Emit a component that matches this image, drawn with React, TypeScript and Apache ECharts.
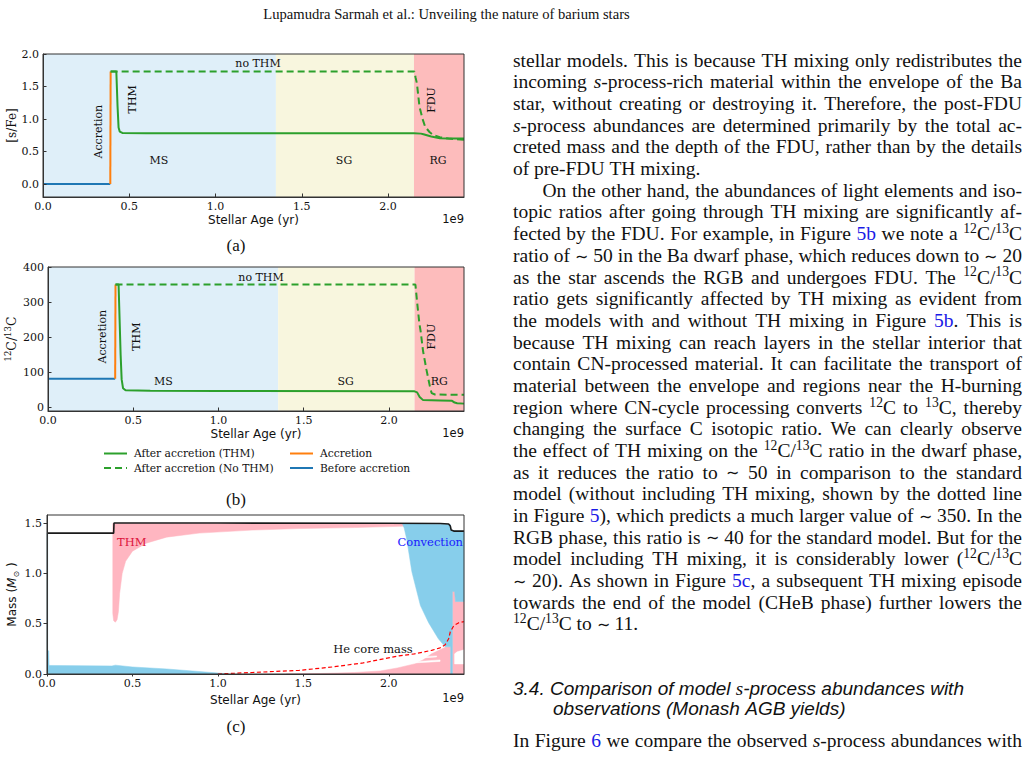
import React, { useEffect, useRef } from "react";
import * as echarts from "echarts";

const W = 1032;
const H = 761;

// ---------------- axes ----------------
const AGE_MAX = 2.44; // 1e9 yr
const ageTicks = [0, 0.5, 1.0, 1.5, 2.0];
const sfeTicks = [0, 0.5, 1.0, 1.5, 2.0];
const ratioTicks = [0, 100, 200, 300, 400];
const massTicks = [0, 0.5, 1.0, 1.5];

// ---------------- evolutionary phases ----------------
const phaseLabels = ["MS", "SG", "RG"];
const phaseFrom = [0, 1.35, 2.15];
const phaseTo = [1.35, 2.15, 2.44];

// ---------------- panel (a): [s/Fe] ----------------
const sfeBefore = [[0, 0], [0.39, 0]];
const sfeAccretion = [[0.39, 0], [0.392, 1.73]];
const sfeNoTHM = [[0.392, 1.73], [1.0, 1.73], [2.152, 1.73], [2.16, 1.63], [2.167, 1.55], [2.175, 1.36], [2.182, 1.19], [2.2, 1.0], [2.215, 0.88], [2.24, 0.8], [2.263, 0.75], [2.3, 0.72], [2.35, 0.7], [2.44, 0.68]];
const sfeTHM = [[0.392, 1.73], [0.425, 1.73], [0.432, 1.2], [0.438, 0.87], [0.445, 0.805], [0.46, 0.785], [0.6, 0.78], [1.0, 0.78], [1.5, 0.78], [2.15, 0.78], [2.19, 0.775], [2.205, 0.765], [2.25, 0.73], [2.3, 0.705], [2.35, 0.7], [2.44, 0.7]];

// ---------------- panel (b): 12C/13C ----------------
const ratioBefore = [[0, 82], [0.394, 82]];
const ratioAccretion = [[0.394, 82], [0.396, 350]];
const ratioNoTHM = [[0.396, 350], [1.0, 350], [2.155, 350], [2.165, 300], [2.178, 240], [2.186, 216], [2.2, 160], [2.22, 107], [2.24, 60], [2.25, 41], [2.27, 37], [2.44, 36]];
const ratioTHM = [[0.396, 350], [0.414, 350], [0.42, 250], [0.426, 150], [0.432, 80], [0.44, 55], [0.455, 49], [0.6, 48], [1.0, 47], [2.15, 46], [2.165, 43], [2.18, 30], [2.2, 21], [2.3, 20], [2.37, 19], [2.385, 14], [2.4, 12], [2.44, 11]];

// ---------------- panel (c): Kippenhahn diagram ----------------
const totalMass = [[0, 1.4], [0.39, 1.4], [0.392, 1.5], [1.0, 1.5], [2.0, 1.498], [2.3, 1.495], [2.35, 1.49], [2.36, 1.47], [2.365, 1.43], [2.38, 1.42], [2.44, 1.42]];
const heCoreMass = [[1.0, 0], [1.2, 0.015], [1.475, 0.036], [1.67, 0.07], [1.85, 0.11], [2.06, 0.18], [2.15, 0.2], [2.25, 0.235], [2.3, 0.26], [2.33, 0.29], [2.35, 0.35], [2.36, 0.42], [2.38, 0.48], [2.41, 0.51], [2.44, 0.52]];
const thmZones = [
  [[0.385, 1.495], [2.12, 1.49], [2.12, 1.47], [1.8, 1.455], [1.475, 1.445], [1.2, 1.43], [0.89, 1.4], [0.7, 1.36], [0.58, 1.3], [0.5, 1.22], [0.46, 1.12], [0.44, 1.0], [0.425, 0.8], [0.418, 0.62], [0.41, 0.54], [0.4, 0.515], [0.39, 0.53], [0.385, 0.6]],
  [[1.4, 0], [1.6, 0.005], [1.8, 0.015], [1.95, 0.03], [2.05, 0.06], [2.15, 0.1], [2.2, 0.14], [2.25, 0.2], [2.3, 0.24], [2.33, 0.265], [2.362, 0.27], [2.362, 0]],
  [[2.372, 0], [2.372, 0.82], [2.385, 0.84], [2.39, 0.72], [2.44, 0.72], [2.44, 0]],
];
const convectionZones = [
  [[0, 0], [0, 1.4], [0.004, 1.4], [0.004, 0.23], [0.01, 0.23], [0.012, 0.085], [0.38, 0.08], [0.4, 0.088], [0.5, 0.07], [0.7, 0.05], [0.85, 0.03], [1.0, 0.01], [1.05, 0]],
  [[2.08, 1.492], [2.36, 1.485], [2.365, 1.425], [2.44, 1.418], [2.44, 0.72], [2.39, 0.72], [2.385, 0.82], [2.372, 0.82], [2.372, 0], [2.362, 0], [2.362, 0.27], [2.33, 0.27], [2.29, 0.35], [2.233, 0.51], [2.185, 0.68], [2.135, 1.015], [2.105, 1.34], [2.09, 1.45]],
];
const mixingGaps = [
  [[2.385, 0.1], [2.44, 0.1], [2.44, 0.24], [2.4, 0.22], [2.385, 0.2]],
  [[2.15, 0.11], [2.3, 0.125], [2.3, 0.14], [2.15, 0.122]],
  [[2.2, 0.16], [2.28, 0.17], [2.28, 0.18], [2.2, 0.17]],
];

// ---------------- page text ----------------
const headerText = "Lupamudra Sarmah et al.: Unveiling the nature of barium stars";
const paragraph1 = [
  "stellar models. This is because TH mixing only redistributes the",
  "incoming _s_-process-rich material within the envelope of the Ba",
  "star, without creating or destroying it. Therefore, the post-FDU",
  "_s_-process abundances are determined primarily by the total ac-",
  "creted mass and the depth of the FDU, rather than by the details",
  "of pre-FDU TH mixing.",
];
const paragraph2 = [
  "On the other hand, the abundances of light elements and iso-",
  "topic ratios after going through TH mixing are significantly af-",
  "fected by the FDU. For example, in Figure [5b] we note a ^12^C/^13^C",
  "ratio of ∼ 50 in the Ba dwarf phase, which reduces down to ∼ 20",
  "as the star ascends the RGB and undergoes FDU. The ^12^C/^13^C",
  "ratio gets significantly affected by TH mixing as evident from",
  "the models with and without TH mixing in Figure [5b]. This is",
  "because TH mixing can reach layers in the stellar interior that",
  "contain CN-processed material. It can facilitate the transport of",
  "material between the envelope and regions near the H-burning",
  "region where CN-cycle processing converts ^12^C to ^13^C, thereby",
  "changing the surface C isotopic ratio. We can clearly observe",
  "the effect of TH mixing on the ^12^C/^13^C ratio in the dwarf phase,",
  "as it reduces the ratio to ∼ 50 in comparison to the standard",
  "model (without including TH mixing, shown by the dotted line",
  "in Figure [5]), which predicts a much larger value of ∼ 350. In the",
  "RGB phase, this ratio is ∼ 40 for the standard model. But for the",
  "model including TH mixing, it is considerably lower (^12^C/^13^C",
  "∼ 20). As shown in Figure [5c], a subsequent TH mixing episode",
  "towards the end of the model (CHeB phase) further lowers the",
  "^12^C/^13^C to  ∼ 11.",
];
const headingLines = [
  "3.4. Comparison of model _s_-process abundances with",
  "observations (Monash AGB yields)",
];
const paragraph3 = ["In Figure [6] we compare the observed _s_-process abundances with"];

// ---------------- styling ----------------
const GREEN = "#2ca02c";
const ORANGE = "#ff7f0e";
const BLUE = "#1f77b4";
const phaseColors = ["#dfeff9", "#f8f6de", "#fdbcbc"];
const TEXT = "#111";
const LINK = "#1a1ae6";
const SERIF = "Liberation Serif";
const SANS = "Liberation Sans";
const PLOT_SERIF = "DejaVu Serif";
const PLOT_SANS = "DejaVu Sans";

// ---------------- text layout helpers ----------------
let ctx: CanvasRenderingContext2D | null = null;
function measure(text: string, size: number, family: string, italic: boolean) {
  if (!ctx) ctx = document.createElement("canvas").getContext("2d");
  ctx!.font = `${italic ? "italic " : ""}${size}px "${family}"`;
  return ctx!.measureText(text).width;
}

type Seg = { t: string; it: boolean; sup: boolean; link: boolean };
function parseWord(w: string): Seg[] {
  const segs: Seg[] = [];
  let it = false, sup = false, link = false, buf = "";
  const flush = () => {
    if (buf) segs.push({ t: buf, it, sup, link });
    buf = "";
  };
  for (const ch of w) {
    if (ch === "_") { flush(); it = !it; }
    else if (ch === "^") { flush(); sup = !sup; }
    else if (ch === "[") { flush(); link = true; }
    else if (ch === "]") { flush(); link = false; }
    else buf += ch;
  }
  flush();
  return segs;
}

function layoutLine(
  text: string, x0: number, x1: number, baseline: number, justify: boolean,
  fs: number, baseFamily: string, baseItalic: boolean, altFamily: string
) {
  const words = text.split(" ").filter((w) => w.length > 0);
  const parsed = words.map(parseWord);
  const info = (s: Seg) => ({
    size: s.sup ? fs * 0.7 : s.t === "∼" ? fs * 0.8 : fs,
    family: s.it ? altFamily : baseFamily,
    italic: s.it ? true : baseItalic,
  });
  const widths = parsed.map((segs) =>
    segs.reduce((a, s) => {
      const i = info(s);
      return a + measure(s.t, i.size, i.family, i.italic);
    }, 0)
  );
  const total = widths.reduce((a, b) => a + b, 0);
  const space = measure(" ", fs, baseFamily, baseItalic);
  const gap = justify && words.length > 1 ? (x1 - x0 - total) / (words.length - 1) : space;
  const els: any[] = [];
  let x = x0;
  parsed.forEach((segs, wi) => {
    let sx = x;
    segs.forEach((s) => {
      const i = info(s);
      const k = i.family === SANS ? 0.3465 : 0.3375;
      let y = s.sup ? baseline - 0.36 * fs - k * i.size : baseline - k * i.size;
      if (s.t === "∼") y = baseline - 0.3 * fs;
      els.push({
        type: "text", x: sx, y, silent: true, z: 50,
        style: {
          text: s.t, fontSize: i.size, fontFamily: i.family,
          fontStyle: i.italic ? "italic" : "normal",
          fill: s.link ? LINK : TEXT, align: "left", verticalAlign: "middle",
        },
      });
      sx += measure(s.t, i.size, i.family, i.italic);
    });
    x += widths[wi] + gap;
  });
  return els;
}

function plotText(text: string, x: number, y: number, opts: any = {}) {
  return {
    type: "text", x, y, silent: true, z: 50, rotation: opts.rotation || 0,
    style: {
      text, fontSize: opts.fontSize || 11, fontFamily: opts.fontFamily || PLOT_SERIF,
      fill: opts.fill || TEXT, align: opts.align || "center", verticalAlign: "middle",
    },
  };
}

// ---------------- chart option ----------------
function xAxis(gi: number, inside: boolean, margin: number, nameGap: number, tickLen: number) {
  return {
    type: "value", gridIndex: gi, min: 0, max: AGE_MAX, z: 10,
    name: "Stellar Age (yr)", nameLocation: "middle", nameGap,
    nameTextStyle: { fontFamily: PLOT_SANS, fontSize: 12, color: TEXT, verticalAlign: "middle" },
    axisLine: { show: true, onZero: false, lineStyle: { color: "#333", width: 1 } },
    axisTick: { show: true, inside, length: tickLen, customValues: ageTicks, lineStyle: { color: "#333" } },
    axisLabel: { customValues: ageTicks, formatter: (v: number) => v.toFixed(1), margin, fontFamily: PLOT_SERIF, fontSize: 11, color: TEXT },
    splitLine: { show: false },
  };
}

function yAxis(gi: number, min: number, max: number, ticks: number[], digits: number, inside: boolean, margin: number, name: string, nameGap: number, nameStyle: any) {
  return {
    type: "value", gridIndex: gi, min, max, z: 10,
    name, nameLocation: "middle", nameGap,
    nameTextStyle: { color: TEXT, verticalAlign: "middle", ...nameStyle },
    axisLine: { show: true, onZero: false, lineStyle: { color: "#333", width: 1 } },
    axisTick: { show: true, inside, length: 3.5, customValues: ticks, lineStyle: { color: "#333" } },
    axisLabel: { customValues: ticks, formatter: (v: number) => v.toFixed(digits), margin, fontFamily: PLOT_SERIF, fontSize: 11, color: TEXT },
    splitLine: { show: false },
  };
}

function lineSeries(name: string, data: number[][], gi: number, color: string, dashed = false, width = 2) {
  return {
    type: "line", name, data, xAxisIndex: gi, yAxisIndex: gi,
    showSymbol: false, symbol: "none", silent: true, z: 5,
    lineStyle: { color, width, type: dashed ? [7, 4] : "solid" },
    itemStyle: { color },
  };
}

function phaseSeries(gi: number) {
  return {
    type: "line", name: "phases", data: [], xAxisIndex: gi, yAxisIndex: gi, silent: true, z: 1,
    markArea: {
      silent: true,
      label: { show: false },
      data: phaseLabels.map((_, i) => [
        { xAxis: phaseFrom[i], itemStyle: { color: phaseColors[i], opacity: 1 } },
        { xAxis: phaseTo[i] },
      ]),
    },
  };
}

function polySeries(name: string, polys: number[][][], color: string, z: number) {
  return {
    type: "custom", name, xAxisIndex: 2, yAxisIndex: 2, silent: true, z,
    data: polys.map((p) => p[0]),
    renderItem: (params: any, api: any) => ({
      type: "polygon",
      shape: { points: polys[params.dataIndex].map((pt) => api.coord(pt)) },
      style: { fill: color, stroke: color, lineWidth: 0.5 },
    }),
  };
}

function buildOption() {
  const bodyFs = 19.5;
  const lead = 21.68;
  const x0 = 513, x1 = 1022;
  const graphics: any[] = [];

  // header
  graphics.push({
    type: "text", x: 446.5, y: 13.8, silent: true,
    style: { text: headerText, fontSize: 14.6, fontFamily: SERIF, fill: TEXT, align: "center", verticalAlign: "middle" },
  });

  // body paragraphs
  const allBody = [
    ...paragraph1.map((t, i) => ({ t, indent: false, last: i === paragraph1.length - 1 })),
    ...paragraph2.map((t, i) => ({ t, indent: i === 0, last: i === paragraph2.length - 1 })),
  ];
  allBody.forEach((l, i) => {
    graphics.push(...layoutLine(l.t, l.indent ? x0 + 29.5 : x0, x1, 66.8 + i * lead, !l.last, bodyFs, SERIF, false, SERIF));
  });
  // section heading
  graphics.push(...layoutLine(headingLines[0], x0, x1, 695, false, 19.0, SANS, true, SERIF));
  graphics.push(...layoutLine(headingLines[1], 553, x1, 715.5, false, 19.0, SANS, true, SERIF));
  graphics.push(...layoutLine(paragraph3[0], x0, x1, 747.5, true, bodyFs, SERIF, false, SERIF));

  // captions
  graphics.push(plotText("(a)", 236, 245.5, { fontSize: 17, fontFamily: SERIF }));
  graphics.push(plotText("(b)", 236, 499.5, { fontSize: 17, fontFamily: SERIF }));
  graphics.push(plotText("(c)", 236, 726.5, { fontSize: 17, fontFamily: SERIF }));

  // panel (a) annotations
  const R = Math.PI / 2;
  graphics.push(plotText("no THM", 258, 63));
  graphics.push(plotText("Accretion", 98, 131.7, { rotation: R }));
  graphics.push(plotText("THM", 132.7, 99.3, { rotation: R }));
  graphics.push(plotText("FDU", 431, 100, { rotation: R }));
  graphics.push(plotText(phaseLabels[0], 159, 160));
  graphics.push(plotText(phaseLabels[1], 344, 160));
  graphics.push(plotText(phaseLabels[2], 438, 160));
  graphics.push(plotText("1e9", 464, 219, { align: "right", fontFamily: PLOT_SANS, fontSize: 11.5 }));

  // panel (b) annotations
  graphics.push(plotText("no THM", 261, 277));
  graphics.push(plotText("Accretion", 102.7, 336.7, { rotation: R }));
  graphics.push(plotText("THM", 136.7, 336.7, { rotation: R }));
  graphics.push(plotText("FDU", 431.7, 336.7, { rotation: R }));
  graphics.push(plotText(phaseLabels[0], 163.3, 381.7));
  graphics.push(plotText(phaseLabels[1], 345.7, 381.7));
  graphics.push(plotText(phaseLabels[2], 439.3, 381.7));
  graphics.push(plotText("1e9", 464, 433, { align: "right", fontFamily: PLOT_SANS, fontSize: 11.5 }));

  // panel (c) annotations
  graphics.push(plotText("THM", 131.7, 542, { fill: "#dc143c", fontSize: 11.5 }));
  graphics.push(plotText("Convection", 463, 542, { fill: "#1a1aff", fontSize: 11.5, align: "right" }));
  graphics.push(plotText("He core mass", 373, 649, { fontSize: 11.5 }));
  graphics.push(plotText("1e9", 464, 698, { align: "right", fontFamily: PLOT_SANS, fontSize: 11.5 }));

  const legendBase = {
    top: 448, orient: "vertical", itemWidth: 23, itemHeight: 12, itemGap: 3.5, padding: 0,
    selectedMode: false,
    textStyle: { fontFamily: PLOT_SERIF, fontSize: 10.7, color: TEXT, padding: [0, 0, 0, 2] },
    itemStyle: { opacity: 0, borderWidth: 0 },
  };

  return {
    animation: false,
    backgroundColor: "#fff",
    grid: [
      { left: 43, top: 54, width: 421, height: 143, show: true, borderColor: "#333", borderWidth: 1, backgroundColor: "transparent", z: 10, outerBoundsMode: "none", containLabel: false },
      { left: 48, top: 267, width: 416, height: 144, show: true, borderColor: "#333", borderWidth: 1, backgroundColor: "transparent", z: 10, outerBoundsMode: "none", containLabel: false },
      { left: 47, top: 515, width: 417, height: 159, show: true, borderColor: "#333", borderWidth: 1, backgroundColor: "transparent", z: 10, outerBoundsMode: "none", containLabel: false },
    ],
    xAxis: [xAxis(0, true, 4, 23, 3.5), xAxis(1, true, 4, 23, 3.5), xAxis(2, false, 3.5, 26, 2.5)],
    yAxis: [
      yAxis(0, -0.2, 2.0, sfeTicks, 1, true, 4, "[s/Fe]", 30, { fontFamily: PLOT_SERIF, fontSize: 12 }),
      yAxis(1, -10, 400, ratioTicks, 0, true, 4, "{sup|12}C/{sup|13}C", 32, {
        fontFamily: PLOT_SERIF, fontSize: 12.5, lineHeight: 16,
        rich: { sup: { fontFamily: PLOT_SERIF, fontSize: 8.5, verticalAlign: "top", lineHeight: 10 } },
      }),
      yAxis(2, 0, 1.58, massTicks, 1, false, 5, "Mass ({it|M}{sub|⊙} )", 35, {
        fontFamily: PLOT_SANS, fontSize: 12, lineHeight: 16,
        rich: {
          it: { fontFamily: PLOT_SANS, fontStyle: "italic", fontSize: 12 },
          sub: { fontFamily: PLOT_SANS, fontSize: 8, verticalAlign: "bottom", lineHeight: 10 },
        },
      }),
    ],
    legend: [
      { ...legendBase, left: 103, data: ["After accretion (THM)", "After accretion (No THM)"] },
      { ...legendBase, left: 289, data: ["Accretion", "Before accretion"] },
    ],
    series: [
      phaseSeries(0),
      lineSeries("Before accretion", sfeBefore, 0, BLUE),
      lineSeries("Accretion", sfeAccretion, 0, ORANGE),
      lineSeries("After accretion (THM)", sfeTHM, 0, GREEN),
      lineSeries("After accretion (No THM)", sfeNoTHM, 0, GREEN, true),
      phaseSeries(1),
      lineSeries("Before accretion", ratioBefore, 1, BLUE),
      lineSeries("Accretion", ratioAccretion, 1, ORANGE),
      lineSeries("After accretion (THM)", ratioTHM, 1, GREEN),
      lineSeries("After accretion (No THM)", ratioNoTHM, 1, GREEN, true),
      polySeries("THM zones", thmZones, "#ffb6c1", 2),
      polySeries("Convection zones", convectionZones, "#87ceeb", 3),
      polySeries("Gaps", mixingGaps, "#ffffff", 4),
      { ...lineSeries("Total mass", totalMass, 2, "#1a1a1a", false, 1.6), z: 6 },
      { ...lineSeries("He core mass", heCoreMass, 2, "#ff0000", false, 1.2), lineStyle: { color: "#ff0000", width: 1.2, type: [4, 2.5] }, z: 6 },
    ],
    graphic: { elements: graphics },
  };
}

export default function App() {
  const ref = useRef<HTMLDivElement>(null);
  useEffect(() => {
    document.body.style.margin = "0";
    const chart = echarts.init(ref.current!, null, { renderer: "svg", width: W, height: H });
    chart.setOption(buildOption() as any);
    return () => chart.dispose();
  }, []);
  return <div ref={ref} style={{ width: W, height: H, background: "#fff" }} />;
}
